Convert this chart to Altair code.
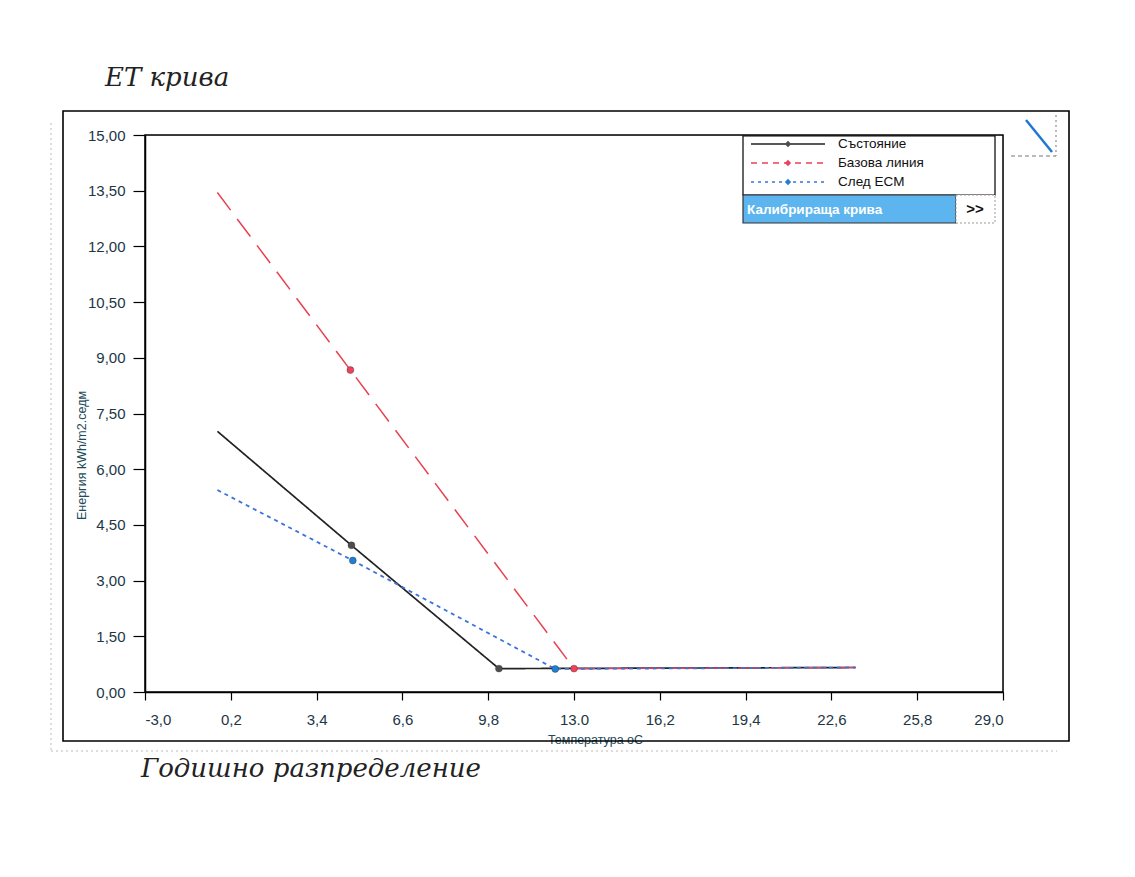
import altair as alt
import pandas as pd

# ---- data ----
series_names = ["Състояние", "Базова линия", "След ECM"]
temp_state = [-0.3, 4.7, 10.2, 23.5]
energy_state = [7.02, 3.95, 0.63, 0.66]
temp_base = [-0.3, 4.66, 13.0, 23.5]
energy_base = [13.45, 8.67, 0.63, 0.66]
temp_ecm = [-0.3, 4.75, 12.3, 23.5]
energy_ecm = [5.44, 3.54, 0.62, 0.66]

x_ticks = [-3.0, 0.2, 3.4, 6.6, 9.8, 13.0, 16.2, 19.4, 22.6, 25.8, 29.0]
y_ticks = [0.0, 1.5, 3.0, 4.5, 6.0, 7.5, 9.0, 10.5, 12.0, 13.5, 15.0]

chart_title = "ET крива"
next_heading = "Годишно разпределение"
x_title = "Температура oC"
y_title = "Енергия kWh/m2.седм"
button_label = "Калибрираща крива"
button_more = ">>"

# ---- table ----
rows = []
for name, ts, es in [(series_names[0], temp_state, energy_state),
                     (series_names[1], temp_base, energy_base),
                     (series_names[2], temp_ecm, energy_ecm)]:
    for i, (t, e) in enumerate(zip(ts, es)):
        rows.append({"series": name, "temp": t, "energy": e, "order": i,
                     "marker": 0 < i < len(ts) - 1})
df = pd.DataFrame(rows)
anchor = pd.DataFrame({"k": [0]})

W, H = 858, 557
label_color = "#1d3646"
title_color = "#1e4a5a"

x_axis = alt.Axis(values=x_ticks, title=x_title,
                  labelExpr="datum.value == 13 ? '13.0' : replace(replace(format(datum.value, '.1f'), '.', ','), '\u2212', '-')",
                  labelFontSize=15, labelColor=label_color, labelFont="Liberation Sans",
                  labelPadding=12, tickSize=8, tickColor="black", tickWidth=1.2,
                  domainColor="black", domainWidth=1.5, grid=False,
                  titleFont="Liberation Sans", titleFontSize=12.5, titleFontWeight="normal",
                  titleColor=title_color, titleX=450, titleY=47, titleAlign="center",
                  titleBaseline="middle")
y_axis = alt.Axis(values=y_ticks, title=y_title,
                  labelExpr="replace(format(datum.value, '.2f'), '.', ',')",
                  labelFontSize=15, labelColor=label_color, labelFont="Liberation Sans",
                  labelPadding=8, tickSize=12, tickColor="black", tickWidth=1.2,
                  domainColor="black", domainWidth=1.5, grid=False,
                  titleFont="Liberation Sans", titleFontSize=12.5, titleFontWeight="normal",
                  titleColor=title_color, titleAngle=270, titleX=-64, titleY=320,
                  titleAlign="center", titleBaseline="middle")

X = alt.X("temp:Q", scale=alt.Scale(domain=[-3, 29], nice=False, zero=False), axis=x_axis)
Y = alt.Y("energy:Q", scale=alt.Scale(domain=[0, 15], nice=False, zero=False), axis=y_axis)

base = alt.Chart(df)

styles = {
    series_names[0]: dict(line="#222222", dot="#4d4d4d", width=1.7, dash=[1, 0], legdash=[1, 0]),
    series_names[1]: dict(line="#e8414f", dot="#f0405a", width=1.5, dash=[22, 11], legdash=[6, 5]),
    series_names[2]: dict(line="#3b73d8", dot="#1f7fd4", width=1.8, dash=[4, 4], legdash=[3, 4]),
}

A = alt.Chart(anchor)
layers = []

# plot frame
layers.append(A.mark_rect(fill=None, stroke="black", strokeWidth=1.5)
              .encode(x=alt.value(0), x2=alt.value(W), y=alt.value(0), y2=alt.value(H)))

for name in series_names:
    s = styles[name]
    layers.append(base.transform_filter(alt.datum.series == name)
                  .mark_line(color=s["line"], strokeWidth=s["width"], strokeDash=s["dash"])
                  .encode(x=X, y=Y, order="order:Q"))
for name in series_names:
    s = styles[name]
    layers.append(base.transform_filter((alt.datum.series == name) & alt.datum.marker)
                  .mark_circle(color=s["dot"], size=48, opacity=1, stroke="#333333", strokeWidth=0.4)
                  .encode(x=X, y=Y))

# outer panel frame and faint shadow
layers.append(A.mark_rect(fill=None, stroke="black", strokeWidth=1.6)
              .encode(x=alt.value(-82), x2=alt.value(924), y=alt.value(-24), y2=alt.value(606)))
layers.append(A.mark_rule(color="#bbbbbb", strokeDash=[2, 3], strokeWidth=1)
              .encode(x=alt.value(-94), y=alt.value(-12), y2=alt.value(616)))
layers.append(A.mark_rule(color="#bbbbbb", strokeDash=[2, 3], strokeWidth=1)
              .encode(x=alt.value(-94), x2=alt.value(912), y=alt.value(616)))

# headings
layers.append(A.mark_text(font="DejaVu Serif", fontStyle="italic", fontSize=26, align="left",
                          baseline="middle", color="#222222")
              .encode(x=alt.value(-40), y=alt.value(-57), text=alt.value(chart_title)))
layers.append(A.mark_text(font="DejaVu Serif", fontStyle="italic", fontSize=26, align="left",
                          baseline="middle", color="#222222")
              .encode(x=alt.value(-4), y=alt.value(634), text=alt.value(next_heading)))

# small widget top-right
layers.append(A.mark_rule(color="#1f78d0", strokeWidth=2.5)
              .encode(x=alt.value(881), x2=alt.value(907), y=alt.value(-15), y2=alt.value(17)))
layers.append(A.mark_rule(color="#777777", strokeDash=[4, 3], strokeWidth=1)
              .encode(x=alt.value(866), x2=alt.value(911), y=alt.value(21)))
layers.append(A.mark_rule(color="#777777", strokeDash=[2, 3], strokeWidth=1)
              .encode(x=alt.value(911), y=alt.value(-20), y2=alt.value(21)))

# custom legend box
layers.append(A.mark_rect(fill="white", stroke="black", strokeWidth=1.2)
              .encode(x=alt.value(598), x2=alt.value(850), y=alt.value(1), y2=alt.value(60)))
row_y = [9, 28, 47]
for name, ry in zip(series_names, row_y):
    s = styles[name]
    layers.append(A.mark_rule(color=s["line"], strokeWidth=1.4, strokeDash=s["legdash"])
                  .encode(x=alt.value(606), x2=alt.value(680), y=alt.value(ry)))
    layers.append(A.mark_point(shape="diamond", filled=True, size=40, color=s["dot"], opacity=1)
                  .encode(x=alt.value(643), y=alt.value(ry)))
    layers.append(A.mark_text(font="Liberation Sans", fontSize=13.5, align="left", baseline="middle",
                              color="#111111")
                  .encode(x=alt.value(693), y=alt.value(ry), text=alt.value(name)))
layers.append(A.mark_rect(fill="#5cb5ef", stroke="#333333", strokeWidth=1.2)
              .encode(x=alt.value(598), x2=alt.value(811), y=alt.value(60), y2=alt.value(88)))
layers.append(A.mark_rect(fill="white", stroke="#999999", strokeWidth=1, strokeDash=[2, 2])
              .encode(x=alt.value(811), x2=alt.value(850), y=alt.value(60), y2=alt.value(88)))
layers.append(A.mark_text(font="Liberation Sans", fontSize=13.5, fontWeight="bold", align="left",
                          baseline="middle", color="white")
              .encode(x=alt.value(602), y=alt.value(75), text=alt.value(button_label)))
layers.append(A.mark_text(font="Liberation Sans", fontSize=15, fontWeight="bold", align="center",
                          baseline="middle", color="#111111")
              .encode(x=alt.value(830), y=alt.value(74), text=alt.value(button_more)))

chart = (alt.layer(*layers)
         .properties(width=W, height=H,
                     autosize=alt.AutoSizeParams(type="none"),
                     padding={"left": 137, "top": 127, "right": 100, "bottom": 170})
         .configure_view(stroke=None)
         .configure(background="white"))

chart.save("out.html", embed_options={"renderer": "svg", "actions": False})
